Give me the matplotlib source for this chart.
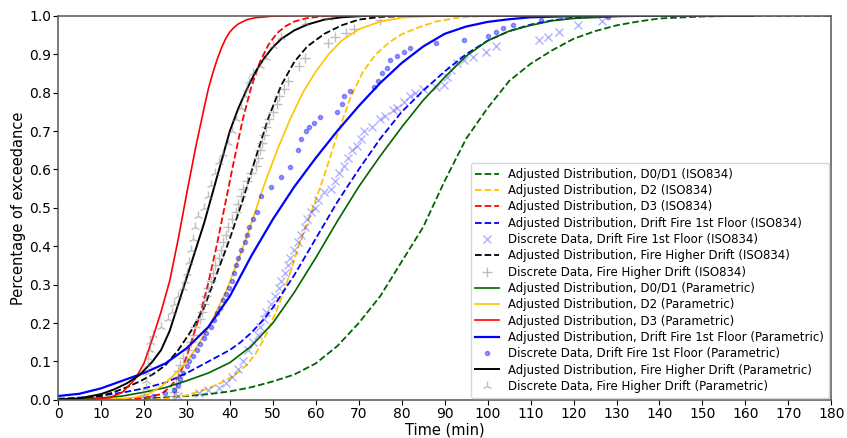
import matplotlib
matplotlib.use("Agg")
import matplotlib.pyplot as plt
import numpy as np

# fitted curves, values (time in min, cumulative fraction)
t_d01_iso = [0, 10, 20, 30, 35, 40, 45, 50, 55, 60, 65, 70, 75, 80, 85, 90, 95, 100, 105, 110, 115, 120, 125, 130, 135, 140, 150, 160, 170, 180]
p_d01_iso = [0, 0.0005, 0.003, 0.01, 0.015, 0.022, 0.033, 0.048, 0.066, 0.095, 0.14, 0.2, 0.27, 0.36, 0.45, 0.57, 0.68, 0.76, 0.83, 0.875, 0.91, 0.94, 0.96, 0.975, 0.985, 0.993, 0.998, 1.0, 1.0, 1.0]

t_d2_iso = [0, 20, 25, 30, 35, 38, 40, 42, 44, 46, 48, 50, 52, 54, 56, 59, 62, 65, 68, 71, 74, 77, 80, 84, 88, 93, 100, 120, 140, 162]
p_d2_iso = [0, 0.0005, 0.003, 0.012, 0.03, 0.045, 0.057, 0.072, 0.092, 0.12, 0.16, 0.21, 0.265, 0.33, 0.4, 0.49, 0.585, 0.69, 0.785, 0.855, 0.9, 0.93, 0.952, 0.97, 0.985, 0.995, 1.0, 1.0, 1.0, 1.0]

t_d3_iso = [0, 15, 20, 24, 26, 28, 29, 30, 31, 32, 33, 35, 37, 39, 41, 43, 45, 47, 49, 51, 53, 55, 58, 62, 66, 80, 100, 130, 162]
p_d3_iso = [0, 0.001, 0.005, 0.015, 0.033, 0.06, 0.085, 0.115, 0.15, 0.185, 0.22, 0.305, 0.405, 0.515, 0.625, 0.73, 0.815, 0.88, 0.925, 0.955, 0.973, 0.985, 0.994, 0.999, 1.0, 1.0, 1.0, 1.0, 1.0]

t_df1_iso = [0, 5, 10, 15, 20, 25, 30, 35, 40, 42.5, 45, 47.5, 50, 55, 60, 65, 70, 75, 80, 85, 90, 95, 100, 105, 110, 115, 120, 130, 140, 162]
p_df1_iso = [0.003, 0.006, 0.011, 0.019, 0.03, 0.045, 0.07, 0.1, 0.13, 0.15, 0.175, 0.205, 0.24, 0.325, 0.42, 0.515, 0.6, 0.68, 0.75, 0.805, 0.855, 0.9, 0.935, 0.96, 0.977, 0.988, 0.995, 0.999, 1.0, 1.0]

t_fhd_iso = [0, 5, 10, 13, 16, 19, 22, 25, 28, 31, 34, 37, 40, 43, 46, 49, 52, 55, 58, 62, 66, 70, 75, 85, 100, 130, 162]
p_fhd_iso = [0.001, 0.003, 0.01, 0.02, 0.033, 0.048, 0.066, 0.09, 0.13, 0.18, 0.24, 0.33, 0.42, 0.52, 0.63, 0.735, 0.82, 0.88, 0.92, 0.953, 0.975, 0.99, 0.997, 1.0, 1.0, 1.0, 1.0]

t_d01_par = [0, 10, 15, 20, 25, 30, 35, 40, 45, 50, 55, 60, 65, 70, 75, 80, 85, 90, 95, 100, 105, 110, 115, 120, 130, 140, 162]
p_d01_par = [0.001, 0.005, 0.01, 0.02, 0.032, 0.05, 0.07, 0.097, 0.14, 0.2, 0.28, 0.37, 0.465, 0.555, 0.635, 0.71, 0.78, 0.84, 0.895, 0.935, 0.96, 0.975, 0.987, 0.993, 0.998, 1.0, 1.0]

t_d2_par = [0, 10, 15, 18, 21, 24, 27, 30, 33, 36, 39, 42, 45, 48, 51, 54, 57, 60, 63, 66, 70, 75, 80, 90, 110, 140, 162]
p_d2_par = [0, 0.0005, 0.003, 0.007, 0.015, 0.035, 0.065, 0.1, 0.15, 0.21, 0.28, 0.365, 0.46, 0.56, 0.65, 0.73, 0.8, 0.855, 0.9, 0.935, 0.965, 0.985, 0.995, 1.0, 1.0, 1.0, 1.0]

t_d3_par = [0, 8, 12, 15, 18, 20, 22, 24, 26, 28, 30, 32, 34, 35, 36, 37, 38, 39, 40, 41, 42, 44, 46, 50, 55, 60, 80, 120, 162]
p_d3_par = [0, 0.001, 0.006, 0.02, 0.055, 0.095, 0.16, 0.23, 0.31, 0.42, 0.54, 0.655, 0.76, 0.81, 0.85, 0.885, 0.915, 0.94, 0.958, 0.97, 0.979, 0.99, 0.995, 0.999, 1.0, 1.0, 1.0, 1.0, 1.0]

t_df1_par = [0, 5, 10, 15, 20, 25, 30, 35, 40, 45, 50, 55, 60, 65, 70, 75, 80, 85, 90, 95, 100, 105, 110, 120, 130, 162]
p_df1_par = [0.01, 0.016, 0.03, 0.05, 0.07, 0.095, 0.135, 0.19, 0.27, 0.375, 0.47, 0.555, 0.63, 0.7, 0.765, 0.825, 0.877, 0.92, 0.953, 0.972, 0.984, 0.991, 0.996, 0.999, 1.0, 1.0]

t_fhd_par = [0, 5, 10, 13, 16, 19, 22, 24, 26, 28, 30, 32, 34, 36, 38, 40, 42, 44, 46, 48, 50, 52, 55, 58, 62, 66, 72, 100, 130, 162]
p_fhd_par = [0.001, 0.004, 0.015, 0.027, 0.043, 0.065, 0.1, 0.13, 0.18, 0.25, 0.32, 0.39, 0.46, 0.54, 0.62, 0.7, 0.76, 0.81, 0.855, 0.89, 0.918, 0.94, 0.962, 0.977, 0.99, 0.996, 1.0, 1.0, 1.0, 1.0]

# discrete data points
t_x_df1_iso = [20, 28, 32.8, 35, 37.4, 39, 40.5, 42, 43, 44.3, 45.5, 46.5, 47, 48, 48.5, 49.5, 50.5, 51.5, 52, 52.8, 53.5, 54, 55, 55.8, 56.5, 57.5, 58, 59, 59.7, 60.5, 62, 63.5, 64.5, 65.5, 66.5, 67.4, 68.5, 69.7, 70.5, 71.3, 73, 75, 76, 78, 79, 80.5, 82, 83, 85, 88, 89.8, 90.5, 91.5, 92.8, 94.5, 96.7, 99.7, 102, 112, 114, 116.5, 121, 126.7]
p_x_df1_iso = [0.005, 0.01, 0.018, 0.025, 0.03, 0.045, 0.06, 0.08, 0.1, 0.13, 0.15, 0.17, 0.19, 0.21, 0.23, 0.25, 0.27, 0.29, 0.31, 0.33, 0.35, 0.37, 0.39, 0.41, 0.43, 0.45, 0.47, 0.49, 0.5, 0.52, 0.54, 0.55, 0.57, 0.59, 0.61, 0.63, 0.65, 0.66, 0.68, 0.7, 0.71, 0.73, 0.74, 0.755, 0.76, 0.775, 0.79, 0.8, 0.81, 0.815, 0.82, 0.84, 0.86, 0.877, 0.885, 0.893, 0.906, 0.92, 0.937, 0.945, 0.958, 0.977, 0.987]

t_x_fhd_iso = [27, 27, 27.5, 27.5, 28, 28, 28.5, 29, 30, 31, 31.5, 32, 33, 33.5, 34, 34.5, 35, 35.5, 36, 36.5, 37.5, 38, 38.5, 39, 39.5, 40.5, 41.5, 42, 42.5, 43, 44, 45, 46, 46.5, 47, 47.5, 48, 48.5, 49, 50, 51, 51.5, 52.5, 53.5, 56, 57.5, 62.8, 64.5, 67, 69, 75]
p_x_fhd_iso = [0.01, 0.02, 0.03, 0.045, 0.06, 0.075, 0.09, 0.11, 0.13, 0.15, 0.17, 0.19, 0.21, 0.23, 0.25, 0.27, 0.29, 0.31, 0.33, 0.35, 0.37, 0.39, 0.41, 0.43, 0.45, 0.47, 0.49, 0.51, 0.53, 0.55, 0.57, 0.59, 0.61, 0.63, 0.65, 0.67, 0.69, 0.71, 0.73, 0.75, 0.77, 0.79, 0.81, 0.83, 0.87, 0.89, 0.93, 0.945, 0.955, 0.965, 0.99]

t_x_df1_par = [22, 25, 27, 28, 28.5, 29, 30, 30.5, 31.5, 32.3, 33, 34, 34.5, 35.5, 36.2, 37, 37.8, 38.5, 39, 39.7, 40.4, 41, 41.5, 42, 42.5, 43.5, 44, 44.5, 45.5, 46.3, 47.3, 49.6, 52, 54, 55.8, 56.5, 57.7, 58.5, 59.5, 61, 65, 66, 66.5, 68, 73.6, 74.5, 75.5, 76.6, 77.3, 79, 80.5, 82, 88, 94.6, 100, 102, 103.6, 106, 112.4, 128]
p_x_df1_par = [0.01, 0.018, 0.026, 0.04, 0.055, 0.07, 0.087, 0.1, 0.115, 0.13, 0.145, 0.16, 0.175, 0.19, 0.208, 0.225, 0.24, 0.26, 0.275, 0.29, 0.31, 0.33, 0.35, 0.37, 0.39, 0.41, 0.43, 0.45, 0.47, 0.49, 0.53, 0.555, 0.58, 0.607, 0.65, 0.68, 0.7, 0.71, 0.72, 0.737, 0.75, 0.77, 0.79, 0.805, 0.815, 0.83, 0.85, 0.865, 0.885, 0.895, 0.905, 0.917, 0.93, 0.937, 0.948, 0.958, 0.968, 0.977, 0.99, 0.997]

t_x_fhd_par = [20, 20.5, 20.5, 21, 21, 21, 21.5, 21.5, 22, 24, 25.5, 26.5, 27, 28, 29, 29.5, 30, 30.5, 31, 31.5, 32, 32.5, 34, 35, 35.5, 36.5, 37.5, 38.5, 39.5, 40.5, 41.5, 42.5, 43.5, 44, 44.5, 45.5, 47, 48.5, 50, 52, 57.5, 62.8]
p_x_fhd_par = [0.01, 0.03, 0.05, 0.07, 0.09, 0.11, 0.13, 0.15, 0.17, 0.19, 0.21, 0.23, 0.25, 0.27, 0.29, 0.31, 0.33, 0.36, 0.39, 0.42, 0.45, 0.48, 0.5, 0.53, 0.56, 0.59, 0.62, 0.64, 0.67, 0.7, 0.73, 0.76, 0.79, 0.81, 0.83, 0.85, 0.87, 0.89, 0.92, 0.945, 0.98, 0.995]

gold = '#FFC400'

fig = plt.figure(figsize=(8.47, 4.38), dpi=100)
ax = fig.add_axes([0.0685, 0.087, 0.913, 0.877])

ax.plot(t_d01_iso, p_d01_iso, '--', color='darkgreen', lw=1.3, label='Adjusted Distribution, D0/D1 (ISO834)')
ax.plot(t_d2_iso, p_d2_iso, '--', color=gold, lw=1.3, label='Adjusted Distribution, D2 (ISO834)')
ax.plot(t_d3_iso, p_d3_iso, '--', color='red', lw=1.3, label='Adjusted Distribution, D3 (ISO834)')
ax.plot(t_df1_iso, p_df1_iso, '--', color='blue', lw=1.3, label='Adjusted Distribution, Drift Fire 1st Floor (ISO834)')
ax.plot(t_x_df1_iso, p_x_df1_iso, 'x', color='blue', alpha=0.3, ms=6, label='Discrete Data, Drift Fire 1st Floor (ISO834)')
ax.plot(t_fhd_iso, p_fhd_iso, '--', color='black', lw=1.3, label='Adjusted Distribution, Fire Higher Drift (ISO834)')
ax.plot(t_x_fhd_iso, p_x_fhd_iso, '+', color='gray', alpha=0.5, ms=7, label='Discrete Data, Fire Higher Drift (ISO834)')
ax.plot(t_d01_par, p_d01_par, '-', color='darkgreen', lw=1.2, label='Adjusted Distribution, D0/D1 (Parametric)')
ax.plot(t_d2_par, p_d2_par, '-', color=gold, lw=1.2, label='Adjusted Distribution, D2 (Parametric)')
ax.plot(t_d3_par, p_d3_par, '-', color='red', lw=1.2, label='Adjusted Distribution, D3 (Parametric)')
ax.plot(t_df1_par, p_df1_par, '-', color='blue', lw=1.6, label='Adjusted Distribution, Drift Fire 1st Floor (Parametric)')
ax.plot(t_x_df1_par, p_x_df1_par, '.', color='blue', alpha=0.4, ms=6, label='Discrete Data, Drift Fire 1st Floor (Parametric)')
ax.plot(t_fhd_par, p_fhd_par, '-', color='black', lw=1.4, label='Adjusted Distribution, Fire Higher Drift (Parametric)')
ax.plot(t_x_fhd_par, p_x_fhd_par, '2', color='gray', alpha=0.5, ms=7, label='Discrete Data, Fire Higher Drift (Parametric)')

ax.set_xlim(0, 180)
ax.set_ylim(0, 1.0)
ax.set_xticks(np.arange(0, 181, 10))
ax.set_yticks(np.arange(0, 1.01, 0.1))
ax.tick_params(labelsize=10, pad=1.5)
for s in ax.spines.values():
    s.set_color('#555555')
    s.set_linewidth(1.1)
ax.set_xlabel('Time (min)', fontsize=10.5, labelpad=1)
ax.set_ylabel('Percentage of exceedance', fontsize=10.5, labelpad=2)
ax.legend(loc='lower right', fontsize=8.5, labelspacing=0.28, borderaxespad=0.2)

fig.savefig('out.png', dpi=100)
